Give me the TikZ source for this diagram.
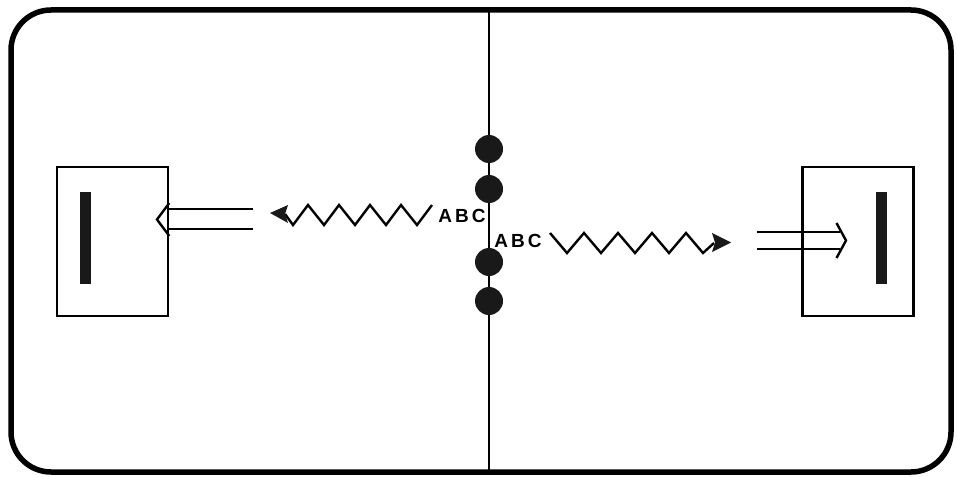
\documentclass[tikz,border=0pt]{standalone}
\usepackage{fontspec}
\setmainfont{Liberation Sans}
\begin{document}
\begin{tikzpicture}[x=1pt,y=-1pt,
  frame/.style={line width=5.5pt, rounded corners=40pt},
  thin/.style={line width=2.4pt},
  box/.style={draw, line width=2.6pt, minimum width=111pt, minimum height=149pt, inner sep=0pt},
  bar/.style={fill=black!90, minimum width=11pt, minimum height=92pt, inner sep=0pt},
  dot/.style={circle, fill=black!90, minimum size=28pt, inner sep=0pt},
  lab/.style={font=\bfseries\fontsize{19}{19}\selectfont, inner sep=0pt},
  tip/.style={fill=black!90}
]
\useasboundingbox (0,0) rectangle (957,476);
\draw[frame] (11,10) rectangle (951,472);
\coordinate (top) at (489,10);
\coordinate (bot) at (489,472);
\draw[thin] (top) -- (bot);
% dots
\foreach \n/\y in {1/149, 2/189, 3/262, 4/301}
  \node[dot] (d\n) at (489,\y) {};
% boxes
\node[box] (L) at (112.5,241.5) {};
\node[bar] (Lb) at (85.5,238) {};
\node[box] (R) at (858,241.5) {};
\node[bar] (Rb) at (881.5,237.5) {};
% labels
\node[lab] (la) at (462,216) {A\kern3pt B\kern3pt C};
\node[lab] (ra) at (518,241) {A\kern3pt B\kern3pt C};
% left zigzag
\coordinate (lzs) at (285,214);
\draw[thin, line join=miter] (lzs)
  \foreach \k in {0,...,4} { -- ({293+31*\k},225) -- ({308+31*\k},205) };
\fill[tip] (270,213) -- (288,205) -- (285,214) -- (288,223) -- cycle;
% right zigzag
\coordinate (rzs) at (550,233);
\coordinate (rze) at (714,243);
\draw[thin, line join=miter] (rzs)
  \foreach \k in {0,...,3} { -- ({567+34*\k},253) -- ({584+34*\k},233) } -- (703,253) -- (rze);
\fill[tip] (731,242.5) -- (712,233) -- (715,242.5) -- (712,252) -- cycle;
% left double arrow
\coordinate (le) at (253,209);
\coordinate (le2) at (253,229);
\draw[thin] (L.east |- le) -- (le);
\draw[thin] (L.east |- le2) -- (le2);
\draw[thin] (L.east |- 0,203) -- (157,219.5) -- (L.east |- 0,236);
% right double arrow
\coordinate (rs) at (757,232);
\coordinate (rs2) at (757,249);
\draw[thin] (rs) -- (840,232);
\draw[thin] (rs2) -- (840,249);
\draw[thin] (836.5,223) -- (846,240.5) -- (836.5,258);
\end{tikzpicture}
\end{document}
